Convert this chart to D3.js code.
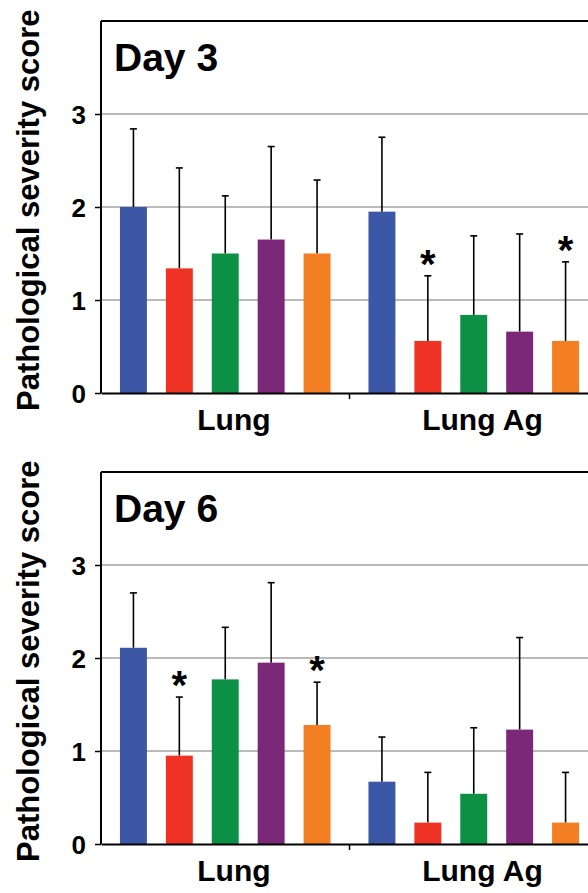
<!DOCTYPE html>
<html>
<head>
<meta charset="utf-8">
<script src="https://cdn.jsdelivr.net/npm/d3@7"></script>
<style>
  body { margin: 0; background: #fff; }
  text { font-family: "Liberation Sans", Arial, Helvetica, sans-serif; font-weight: bold; fill: #000; }
</style>
</head>
<body>
<div id="chart"></div>
<script>
const groups = ['Lung', 'Lung Ag'];
const seriesColors = ['#3b57a5', '#ee3224', '#0b9046', '#7a2877', '#f47e22'];
const yTicks = [0, 1, 2, 3];

const panelTitles = ['Day 3', 'Day 6'];

// means per group, one value per series
const day3Means = [[2.0, 1.34, 1.5, 1.65, 1.5], [1.95, 0.56, 0.84, 0.66, 0.56]];
const day3Errors = [[0.84, 1.08, 0.62, 1.0, 0.79], [0.80, 0.70, 0.85, 1.05, 0.85]];
const day3Sig = [[0, 0, 0, 0, 0], [0, 1, 0, 0, 1]];

const day6Means = [[2.11, 0.95, 1.77, 1.95, 1.28], [0.67, 0.23, 0.54, 1.23, 0.23]];
const day6Errors = [[0.59, 0.63, 0.56, 0.86, 0.46], [0.48, 0.54, 0.71, 0.99, 0.54]];
const day6Sig = [[0, 1, 0, 0, 1], [0, 0, 0, 0, 0]];

const panelData = [
  { title: panelTitles[0], means: day3Means, errors: day3Errors, sig: day3Sig },
  { title: panelTitles[1], means: day6Means, errors: day6Errors, sig: day6Sig }
];

const svgCanvas = { width: 588, height: 893 };
const plot = { left: 101, right: 598, height: 372 };
const panelTops = [21, 472];

const svg = d3.select('#chart')
  .append('svg')
  .attr('width', svgCanvas.width)
  .attr('height', svgCanvas.height);

const xGroup = d3.scaleBand()
  .domain(groups)
  .range([plot.left, plot.right]);

const xSeries = d3.scaleBand()
  .domain(d3.range(seriesColors.length))
  .range([0, xGroup.bandwidth()])
  .padding(0.413);

const yScale = d3.scaleLinear()
  .domain([0, 4])
  .range([plot.height, 0]);

panelData.forEach((panel, p) => {
  const g = svg.append('g')
    .attr('transform', `translate(0, ${panelTops[p]})`);

  // gridlines
  g.append('g')
    .selectAll('line')
    .data(yTicks.filter(d => d > 0))
    .enter()
    .append('line')
    .attr('x1', plot.left)
    .attr('x2', plot.right)
    .attr('y1', d => yScale(d))
    .attr('y2', d => yScale(d))
    .attr('stroke', '#a3a3a3')
    .attr('stroke-width', 1.4);

  // top frame line
  g.append('line')
    .attr('x1', plot.left)
    .attr('x2', plot.right)
    .attr('y1', yScale(4))
    .attr('y2', yScale(4))
    .attr('stroke', '#000')
    .attr('stroke-width', 2);

  // bars
  const groupsG = g.selectAll('.group')
    .data(panel.means.map((vals, i) => ({ name: groups[i], vals: vals, errs: panel.errors[i], sig: panel.sig[i] })))
    .enter()
    .append('g')
    .attr('class', 'group')
    .attr('transform', d => `translate(${xGroup(d.name)}, 0)`);

  const bars = groupsG.selectAll('.bar')
    .data(d => d.vals.map((v, j) => ({ v: v, e: d.errs[j], s: d.sig[j], j: j })))
    .enter();

  // error bars (drawn behind bar so only the upper part shows)
  bars.append('line')
    .attr('x1', d => xSeries(d.j) + xSeries.bandwidth() / 2)
    .attr('x2', d => xSeries(d.j) + xSeries.bandwidth() / 2)
    .attr('y1', d => yScale(d.v))
    .attr('y2', d => yScale(d.v + d.e))
    .attr('stroke', '#000')
    .attr('stroke-width', 1.6);

  bars.append('line')
    .attr('x1', d => xSeries(d.j) + xSeries.bandwidth() / 2 - 3.5)
    .attr('x2', d => xSeries(d.j) + xSeries.bandwidth() / 2 + 3.5)
    .attr('y1', d => yScale(d.v + d.e))
    .attr('y2', d => yScale(d.v + d.e))
    .attr('stroke', '#000')
    .attr('stroke-width', 1.6);

  bars.append('rect')
    .attr('class', 'bar')
    .attr('x', d => xSeries(d.j))
    .attr('width', xSeries.bandwidth())
    .attr('y', d => yScale(d.v))
    .attr('height', d => yScale(0) - yScale(d.v))
    .attr('fill', d => seriesColors[d.j]);

  // significance stars
  bars.filter(d => d.s)
    .append('text')
    .attr('x', d => xSeries(d.j) + xSeries.bandwidth() / 2)
    .attr('y', d => yScale(d.v + d.e) + 2)
    .attr('text-anchor', 'middle')
    .style('font-size', '40px')
    .text('*');

  // y axis
  const yAxis = g.append('g')
    .attr('transform', `translate(${plot.left}, 0)`)
    .call(d3.axisLeft(yScale).tickValues(yTicks).tickSize(6).tickPadding(9).tickFormat(d3.format('d')));
  yAxis.select('.domain')
    .attr('d', `M0,${yScale(4)}V${yScale(0)}`)
    .attr('stroke-width', 2);
  yAxis.selectAll('.tick line').attr('stroke-width', 1.5);
  yAxis.selectAll('.tick text')
    .style('font-size', '26px')
    .style('font-family', '"Liberation Sans", Arial, sans-serif')
    .style('font-weight', 'bold')
    .attr('dy', '0.36em');

  // x axis
  const xAxis = g.append('g')
    .attr('transform', `translate(0, ${yScale(0)})`)
    .call(d3.axisBottom(xGroup).tickSize(0).tickFormat(''));
  xAxis.select('.domain').attr('stroke-width', 2.2);
  xAxis.append('line')
    .attr('x1', xGroup(groups[1]))
    .attr('x2', xGroup(groups[1]))
    .attr('y1', 0)
    .attr('y2', 6)
    .attr('stroke', '#000')
    .attr('stroke-width', 1.5);

  g.selectAll('.cat-label')
    .data(groups)
    .enter()
    .append('text')
    .attr('class', 'cat-label')
    .attr('x', d => xGroup(d) + xGroup.bandwidth() / 2 + 8.7)
    .attr('y', yScale(0) + 37)
    .attr('text-anchor', 'middle')
    .style('font-size', '30px')
    .text(d => d);

  // panel title
  g.append('text')
    .attr('x', 114)
    .attr('y', 50)
    .style('font-size', '39px')
    .text(panel.title);

  // y axis title
  g.append('text')
    .attr('transform', `translate(39, ${yScale(0) + 18}) rotate(-90)`)
    .style('font-size', '31px')
    .text('Pathological severity score');
});
</script>
</body>
</html>
